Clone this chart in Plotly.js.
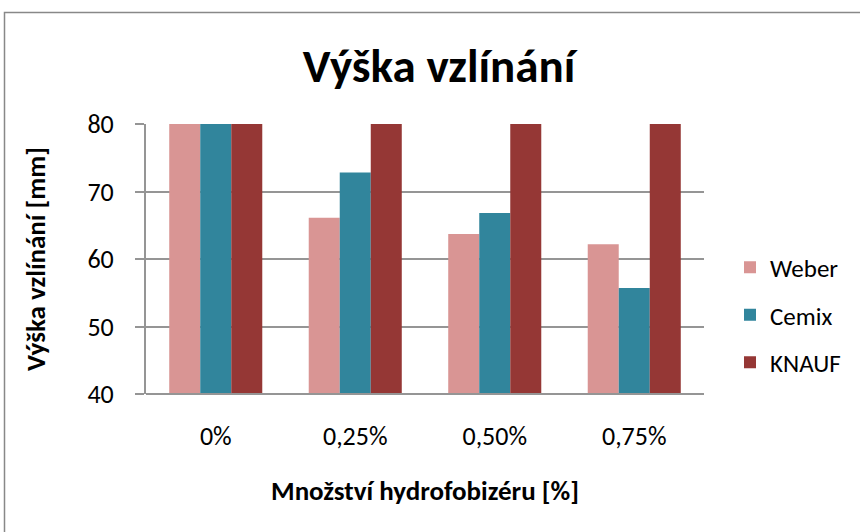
<!DOCTYPE html>
<html>
<head>
<meta charset="utf-8">
<script src="https://cdn.plot.ly/plotly-3.0.1.min.js"></script>
<style>html,body{margin:0;padding:0;background:#fff;}#chart{width:860px;height:532px;}</style>
</head>
<body>
<div id="chart"></div>
<script>
const categories = ["0%", "0,25%", "0,50%", "0,75%"];
const weber = [80, 66.1, 63.7, 62.2];
const cemix = [80, 72.8, 66.8, 55.7];
const knauf = [80, 80, 80, 80];
const seriesNames = ["Weber", "Cemix", "KNAUF"];
const seriesColors = ["#D99594", "#31859C", "#953735"];
const yTicks = [40, 50, 60, 70, 80];

const FONT = "Carlito, Lato, 'Liberation Sans', sans-serif";
const vals = [weber, cemix, knauf];
const traces = vals.map((v, i) => ({
  type: "bar",
  name: seriesNames[i],
  x: categories,
  y: v,
  marker: {color: seriesColors[i], line: {width: 0}},
  legendgroup: "g" + i,
  hoverinfo: "x+y+name"
}));

const L = 146, R = 704, T = 124, B = 394, W = 860, H = 532;
const layout = {
  width: W, height: H,
  margin: {l: L, r: W - R, t: T, b: H - B, pad: 0},
  paper_bgcolor: "#fff", plot_bgcolor: "#fff",
  font: {family: FONT, size: 25, color: "#000"},
  barmode: "group",
  bargap: 0.333,
  bargroupgap: 0,
  showlegend: true,
  title: {
    text: "<b>Výška vzlínání</b>",
    font: {family: FONT, size: 47, color: "#000"},
    x: (439 - L) / (R - L), xref: "paper", xanchor: "center",
    y: 1 - 66 / H, yref: "container", yanchor: "middle"
  },
  xaxis: {
    type: "category",
    showgrid: false,
    showline: false,
    ticks: "",
    tickfont: {family: FONT, size: 26},
    ticklabelstandoff: 24,
    title: {text: "<b>Množství hydrofobizéru [%]</b>", font: {family: FONT, size: 27}, standoff: 30},
    zeroline: false
  },
  yaxis: {
    range: [40, 80],
    tickvals: yTicks,
    showgrid: true,
    gridcolor: "#959595",
    gridwidth: 2,
    showline: true,
    linecolor: "#959595",
    linewidth: 2,
    ticks: "outside",
    ticklen: 9,
    tickcolor: "#959595",
    tickwidth: 2,
    tickfont: {family: FONT, size: 26},
    ticklabelstandoff: 16,
    zeroline: false,
    title: {text: "<b>Výška vzlínání [mm]</b>", font: {family: FONT, size: 27}, standoff: 34}
  },
  legend: {
    x: (730 - L) / (R - L), xanchor: "left",
    y: (B - 315) / (B - T), yanchor: "middle",
    font: {family: FONT, size: 25},
    traceorder: "grouped",
    tracegroupgap: 12,
    itemwidth: 30,
    bgcolor: "rgba(0,0,0,0)"
  },
  shapes: [
    {type: "line", xref: "paper", yref: "paper", x0: 0, x1: 1, y0: 0, y1: 0, line: {color: "#959595", width: 2}, layer: "above"},
    {type: "rect", xref: "paper", yref: "paper",
     x0: (4.5 - L) / (R - L), x1: (870 - L) / (R - L),
     y0: (B - 545) / (B - T), y1: (B - 12.5) / (B - T),
     line: {color: "#888888", width: 1.5}, fillcolor: "rgba(0,0,0,0)", layer: "below"}
  ]
};

Plotly.newPlot("chart", traces, layout, {staticPlot: true, displayModeBar: false});
</script>
</body>
</html>
